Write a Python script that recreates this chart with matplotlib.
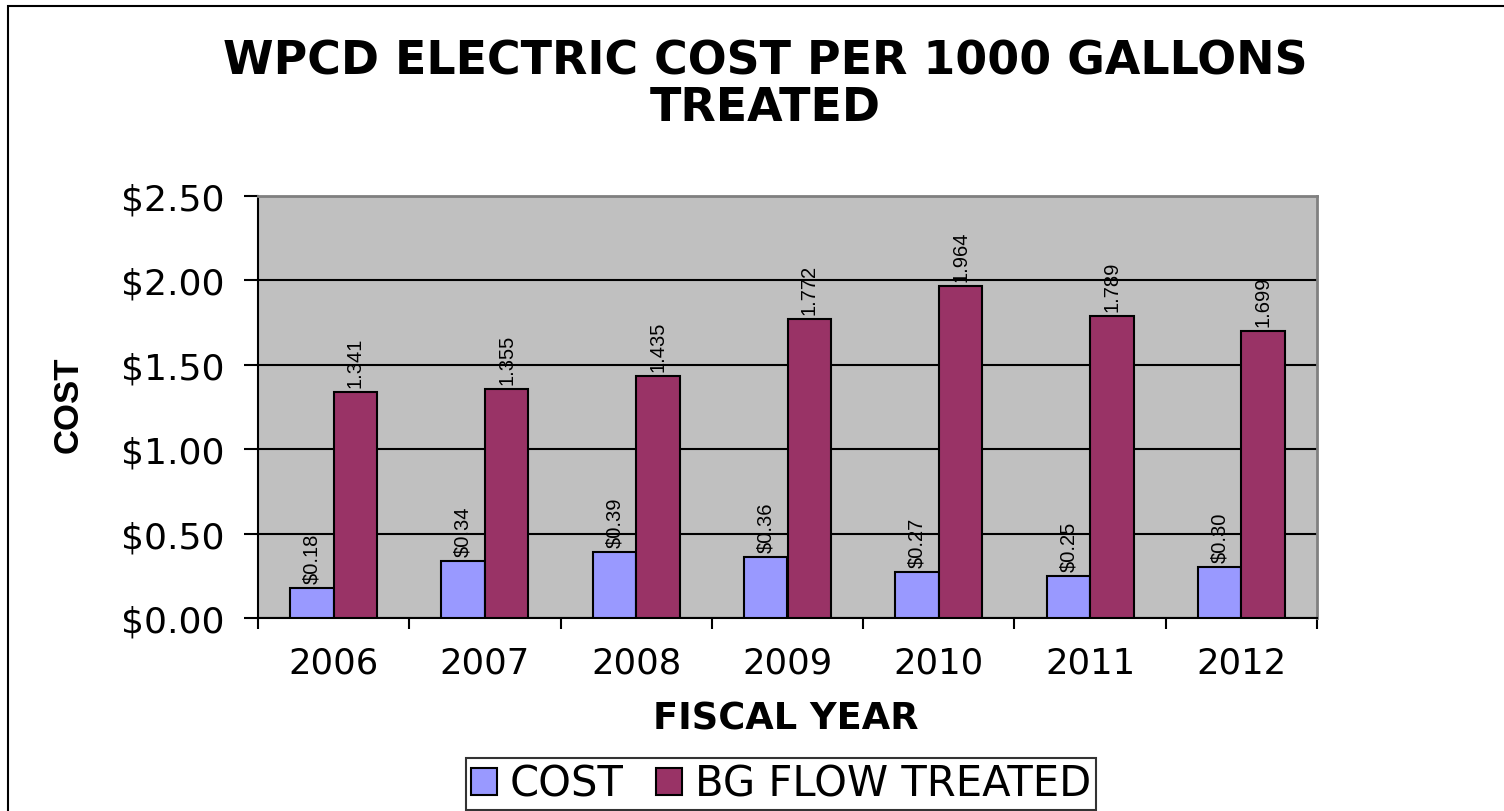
import matplotlib
matplotlib.use("Agg")
import matplotlib.pyplot as plt
import numpy as np
from matplotlib.patches import Rectangle

years = ["2006", "2007", "2008", "2009", "2010", "2011", "2012"]
cost = [0.18, 0.34, 0.39, 0.36, 0.27, 0.25, 0.30]
flow = [1.341, 1.355, 1.435, 1.772, 1.964, 1.789, 1.699]
cost_labels = ["$0.18", "$0.34", "$0.39", "$0.36", "$0.27", "$0.25", "$0.30"]
flow_labels = ["1.341", "1.355", "1.435", "1.772", "1.964", "1.789", "1.699"]
y_ticks = [0.0, 0.5, 1.0, 1.5, 2.0, 2.5]

plt.rcParams['font.family'] = ['DejaVu Sans']
narrow = ['Liberation Sans Narrow', 'Liberation Sans', 'DejaVu Sans']

W, H = 1504, 812
fig = plt.figure(figsize=(W / 100, H / 100), dpi=100)
fig.patch.set_facecolor("white")

# outer chart frame (runs off the right and bottom edges)
fig.patches.append(Rectangle((8 / W, -0.05), 1.2, 1 - 7 / H + 0.05,
                             transform=fig.transFigure, fill=False,
                             edgecolor="black", linewidth=1.5))

left, right, top, bottom = 258, 1317, 197, 619
ax = fig.add_axes([left / W, 1 - bottom / H, (right - left) / W, (bottom - top) / H])
ax.set_facecolor("#C0C0C0")

x = np.arange(len(years))
bw = 0.288
ax.bar(x - bw / 2, cost, bw, color="#9999FF", edgecolor="black", linewidth=1.5,
       label="COST", zorder=3)
ax.bar(x + bw / 2, flow, bw, color="#993366", edgecolor="black", linewidth=1.5,
       label="BG FLOW TREATED", zorder=3)

label_font = dict(family=narrow, fontsize=14.5, rotation=90, ha="center", va="bottom")
for xi, v, s in zip(x, cost, cost_labels):
    ax.text(xi - bw / 2, v + 0.03, s, **label_font, zorder=4)
for xi, v, s in zip(x, flow, flow_labels):
    ax.text(xi + bw / 2, v + 0.03, s, **label_font, zorder=4)

ax.set_xlim(-0.5, len(years) - 0.5)
ax.set_ylim(0, 2.5)
ax.set_yticks(y_ticks)
ax.set_yticklabels([f"${t:.2f}" for t in y_ticks], fontsize=26)
ax.yaxis.grid(True, color="black", linewidth=1.5, zorder=1)
ax.set_axisbelow(True)

ax.set_xticks(x)
ax.set_xticklabels(years, fontsize=25.5)
ax.tick_params(axis="x", length=0, pad=20)
ax.set_xticks(np.arange(len(years) + 1) - 0.5, minor=True)
ax.tick_params(axis="x", which="minor", length=8, width=1.5, direction="out")
ax.tick_params(axis="y", length=10, width=1.5, direction="out", pad=14)

for side in ("top", "right"):
    ax.spines[side].set_color("#808080")
    ax.spines[side].set_linewidth(2)
for side in ("left", "bottom"):
    ax.spines[side].set_color("black")
    ax.spines[side].set_linewidth(1.5)

fig.text(786 / W, 1 - 719 / H, "FISCAL YEAR", ha="center", va="center",
         fontsize=26.5, fontweight="bold")
fig.text(68 / W, 1 - 405 / H, "COST", ha="center", va="center", rotation=90,
         family=narrow, fontsize=25, fontweight="bold")

fig.text(765 / W, 1 - 85 / H, "WPCD ELECTRIC COST PER 1000 GALLONS\nTREATED",
         ha="center", va="center", fontsize=33, fontweight="bold", linespacing=1.05)

leg = fig.legend(loc="center", bbox_to_anchor=(781 / W, 1 - 785 / H), ncol=2,
                 fontsize=30, frameon=True, fancybox=False, edgecolor="black",
                 handlelength=0.62, handleheight=0.62, handletextpad=0.3,
                 columnspacing=0.8, borderpad=0.12, borderaxespad=0)
leg.get_frame().set_linewidth(1.5)

fig.savefig("out.png", dpi=100)
